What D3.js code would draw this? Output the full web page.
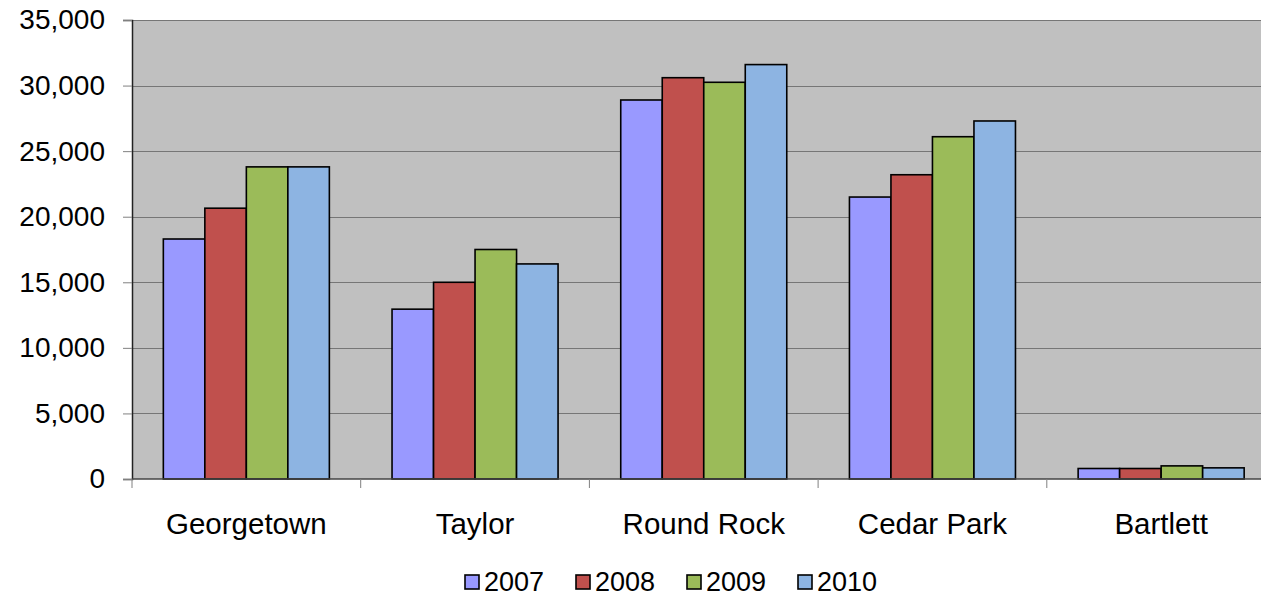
<!DOCTYPE html>
<html>
<head>
<meta charset="utf-8">
<script src="https://cdn.jsdelivr.net/npm/d3@7"></script>
<style>
  html, body { margin: 0; padding: 0; background: #fff; overflow: hidden; }
  svg { display: block; font-family: "Liberation Sans", Arial, sans-serif; }
</style>
</head>
<body>
<svg id="chart" width="1261" height="597"></svg>
<script>
// Cities and yearly values
const cities = ["Georgetown", "Taylor", "Round Rock", "Cedar Park", "Bartlett"];
const years = ["2007", "2008", "2009", "2010"];
const values2007 = [18300, 12950, 28900, 21500, 800];
const values2008 = [20650, 15000, 30600, 23200, 800];
const values2009 = [23800, 17500, 30250, 26100, 1000];
const values2010 = [23800, 16400, 31600, 27300, 850];
const yTicks = [0, 5000, 10000, 15000, 20000, 25000, 30000, 35000];
const colors = ["#9999FF", "#C0504D", "#9BBB59", "#8DB4E2"];

const series = [values2007, values2008, values2009, values2010];
const rows = cities.map((c, i) => ({
  city: c,
  vals: years.map((y, j) => ({ year: y, value: series[j][i], idx: j }))
}));

const svg = d3.select("#chart");
const margin = { left: 132, top: 20 };
const plotW = 1143.5, plotH = 459;

const x0 = d3.scaleBand().domain(cities).range([0, plotW]).paddingInner(0).paddingOuter(0);
const x1 = d3.scaleBand().domain(years).range([0, x0.bandwidth()]).paddingInner(0).paddingOuter(0.755);
const y = d3.scaleLinear().domain([0, 35000]).range([plotH, 0]);
const color = d3.scaleOrdinal().domain(years).range(colors);

const g = svg.append("g").attr("transform", `translate(${margin.left},${margin.top})`);

// plot background
g.append("rect").attr("x", 0).attr("y", 0).attr("width", plotW).attr("height", plotH).attr("fill", "#C0C0C0");

// horizontal gridlines
g.selectAll("line.grid").data(yTicks.filter(t => t > 0)).join("line")
  .attr("class", "grid")
  .attr("x1", 0).attr("x2", plotW)
  .attr("y1", d => Math.round(y(d)) + 0.5).attr("y2", d => Math.round(y(d)) + 0.5)
  .attr("stroke", "#767676").attr("stroke-width", 1);

// bars
const groups = g.selectAll("g.city").data(rows).join("g")
  .attr("class", "city")
  .attr("transform", d => `translate(${x0(d.city)},0)`);
groups.selectAll("rect").data(d => d.vals).join("rect")
  .attr("x", d => x1(d.year))
  .attr("y", d => y(d.value))
  .attr("width", x1.bandwidth())
  .attr("height", d => plotH - y(d.value))
  .attr("fill", d => color(d.year))
  .attr("stroke", "#000").attr("stroke-width", 1.6);

// y axis
const yAxis = d3.axisLeft(y).tickValues(yTicks).tickSize(9).tickPadding(18)
  .tickFormat(d3.format(","));
const ya = g.append("g").call(yAxis);
ya.select(".domain").attr("stroke", "#222").attr("stroke-width", 1.5);
ya.selectAll(".tick line").attr("stroke", "#808080");
ya.selectAll("text").attr("font-size", 28).attr("fill", "#000")
  .attr("font-family", "'Liberation Sans', Arial, sans-serif");

// x axis with ticks at category boundaries
const xa = g.append("g").attr("transform", `translate(0,${plotH})`);
xa.append("line").attr("x1", 0).attr("x2", plotW).attr("y1", 0).attr("y2", 0)
  .attr("stroke", "#444").attr("stroke-width", 1.5);
const bounds = cities.map(c => x0(c)).concat([plotW]);
xa.selectAll("line.tk").data(bounds).join("line")
  .attr("class", "tk")
  .attr("x1", d => d).attr("x2", d => d).attr("y1", 0).attr("y2", 9)
  .attr("stroke", "#808080");
xa.selectAll("text").data(cities).join("text")
  .attr("x", d => x0(d) + x0.bandwidth() / 2)
  .attr("y", 55)
  .attr("text-anchor", "middle")
  .attr("font-size", 29.5)
  .attr("fill", "#000")
  .text(d => d);

// legend
const legend = svg.append("g").attr("transform", "translate(465,575)");
const lx = d3.scalePoint().domain(years).range([0, 333]);
const items = legend.selectAll("g").data(years).join("g")
  .attr("transform", d => `translate(${lx(d)},0)`);
items.append("rect").attr("width", 14).attr("height", 14)
  .attr("fill", d => color(d)).attr("stroke", "#000").attr("stroke-width", 1.6);
items.append("text").attr("x", 19).attr("y", 16)
  .attr("font-size", 27).attr("fill", "#000").text(d => d);
</script>
</body>
</html>
